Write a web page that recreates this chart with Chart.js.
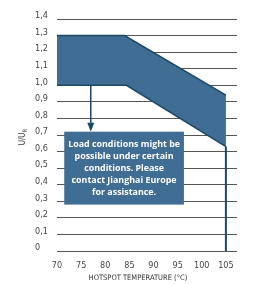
<!DOCTYPE html>
<html><head><meta charset="utf-8">
<script src="https://cdn.jsdelivr.net/npm/chart.js@4.4.1/dist/chart.umd.min.js"></script>
<style>html,body{margin:0;padding:0;background:#fff;}#wrap{width:254px;height:284px;}</style>
</head><body><div id="wrap"><canvas id="c" width="254" height="284"></canvas></div>
<script>
const xTickLabels = ['70','75','80','85','90','95','100','105'];
const yTickLabels = ['0','0,1','0,2','0,3','0,4','0,5','0,6','0,7','0,8','0,9','1,0','1,1','1,2','1,3','1,4'];
const upperX = [70, 84, 105];
const upperY = [1.3, 1.3, 0.94];
const lowerX = [70, 84.4, 105];
const lowerY = [1.0, 1.0, 0.63];
const limitX = [105, 105];
const limitY = [0, 0.63];
const arrowX = 77, arrowFrom = 1.0, arrowTo = 0.72;
const boxX = [71.5, 96.3], boxY = [0.72, 0.28];
const noteLines = ['Load conditions might be','possible under certain','conditions. Please','contact Jianghai Europe','for assistance.'];
const xTitle = 'HOTSPOT TEMPERATURE (°C)';

const pts = (xs, ys) => xs.map((x, i) => ({x, y: ys[i]}));
const tickFont = {family: "'Liberation Sans Narrow','DejaVu Sans Condensed',sans-serif", size: 9};

const annot = {
  id: 'annot',
  afterDraw(chart) {
    const {ctx, scales: {x, y}} = chart;
    ctx.save();
    const ax = x.getPixelForValue(arrowX);
    const y1 = y.getPixelForValue(arrowFrom), y2 = y.getPixelForValue(arrowTo);
    ctx.strokeStyle = '#1c4866'; ctx.fillStyle = '#1c4866'; ctx.lineWidth = 1.5;
    ctx.beginPath(); ctx.moveTo(ax, y1); ctx.lineTo(ax, y2 - 8); ctx.stroke();
    ctx.beginPath(); ctx.moveTo(ax - 3.5, y2 - 9); ctx.lineTo(ax + 3.5, y2 - 9); ctx.lineTo(ax, y2); ctx.closePath(); ctx.fill();
    const bx1 = x.getPixelForValue(boxX[0]), bx2 = x.getPixelForValue(boxX[1]);
    const by1 = y.getPixelForValue(boxY[0]), by2 = y.getPixelForValue(boxY[1]);
    ctx.fillStyle = '#406d93';
    ctx.fillRect(bx1, by1, bx2 - bx1, by2 - by1);
    ctx.fillStyle = '#ffffff';
    ctx.font = "bold 8.9px 'Open Sans', sans-serif";
    ctx.textAlign = 'center'; ctx.textBaseline = 'middle';
    const cx = (bx1 + bx2) / 2;
    noteLines.forEach((t, i) => ctx.fillText(t, cx, by1 + 13 + i * 12));
    ctx.fillStyle = '#444';
    ctx.translate(23, 137); ctx.rotate(-Math.PI / 2);
    ctx.font = "8px 'Liberation Sans Narrow','DejaVu Sans Condensed',sans-serif";
    ctx.textAlign = 'left'; ctx.textBaseline = 'middle';
    const w = ctx.measureText('U/U').width;
    const w2 = ctx.measureText('R').width * 0.75;
    const sx = -(w + w2) / 2;
    ctx.fillText('U/U', sx, 0);
    ctx.font = "6px 'Liberation Sans Narrow','DejaVu Sans Condensed',sans-serif";
    ctx.fillText('R', sx + w, 2.5);
    ctx.setTransform(1, 0, 0, 1, 0, 0);
    ctx.font = "7.5px 'Liberation Sans Narrow','DejaVu Sans Condensed',sans-serif";
    ctx.fillStyle = '#333';
    ctx.textAlign = 'center';
    ctx.fillText(xTitle, 138, 278);
    ctx.restore();
  }
};

new Chart(document.getElementById('c'), {
  type: 'line',
  data: {
    datasets: [
      {data: pts(upperX, upperY), borderColor: '#1c4866', borderWidth: 1.5, pointRadius: 0, fill: false, backgroundColor: '#406d93'},
      {data: pts(lowerX, lowerY), borderColor: '#1c4866', borderWidth: 1.5, pointRadius: 0, fill: '-1', backgroundColor: '#406d93'},
      {data: pts(limitX, limitY), borderColor: '#1c4866', borderWidth: 2, pointRadius: 0, fill: false}
    ]
  },
  options: {
    responsive: false, animation: false, events: [],
    layout: {padding: {left: 35, right: 17, top: 19, bottom: 0}},
    plugins: {legend: {display: false}, tooltip: {enabled: false}},
    scales: {
      x: {
        type: 'linear', min: 70, max: 107.3,
        afterFit(s) { s.height = 33; },
        grid: {display: false, drawTicks: false},
        border: {display: false},
        ticks: {stepSize: 5, includeBounds: false, autoSkip: false, padding: 9, color: '#444', font: tickFont, maxRotation: 0,
          callback: (v) => { const k = (v - 70) / 5; return Number.isInteger(k) ? xTickLabels[k] : ''; }}
      },
      y: {
        min: 0, max: 1.4, z: 1,
        afterFit(s) { s.width = 22; },
        grid: {color: '#555', lineWidth: 1, drawTicks: false},
        border: {display: false},
        ticks: {stepSize: 0.1, padding: 0, crossAlign: 'far', labelOffset: -3, color: '#444', font: tickFont,
          callback: (v) => yTickLabels[Math.round(v * 10)]}
      }
    }
  },
  plugins: [annot]
});
</script></body></html>
